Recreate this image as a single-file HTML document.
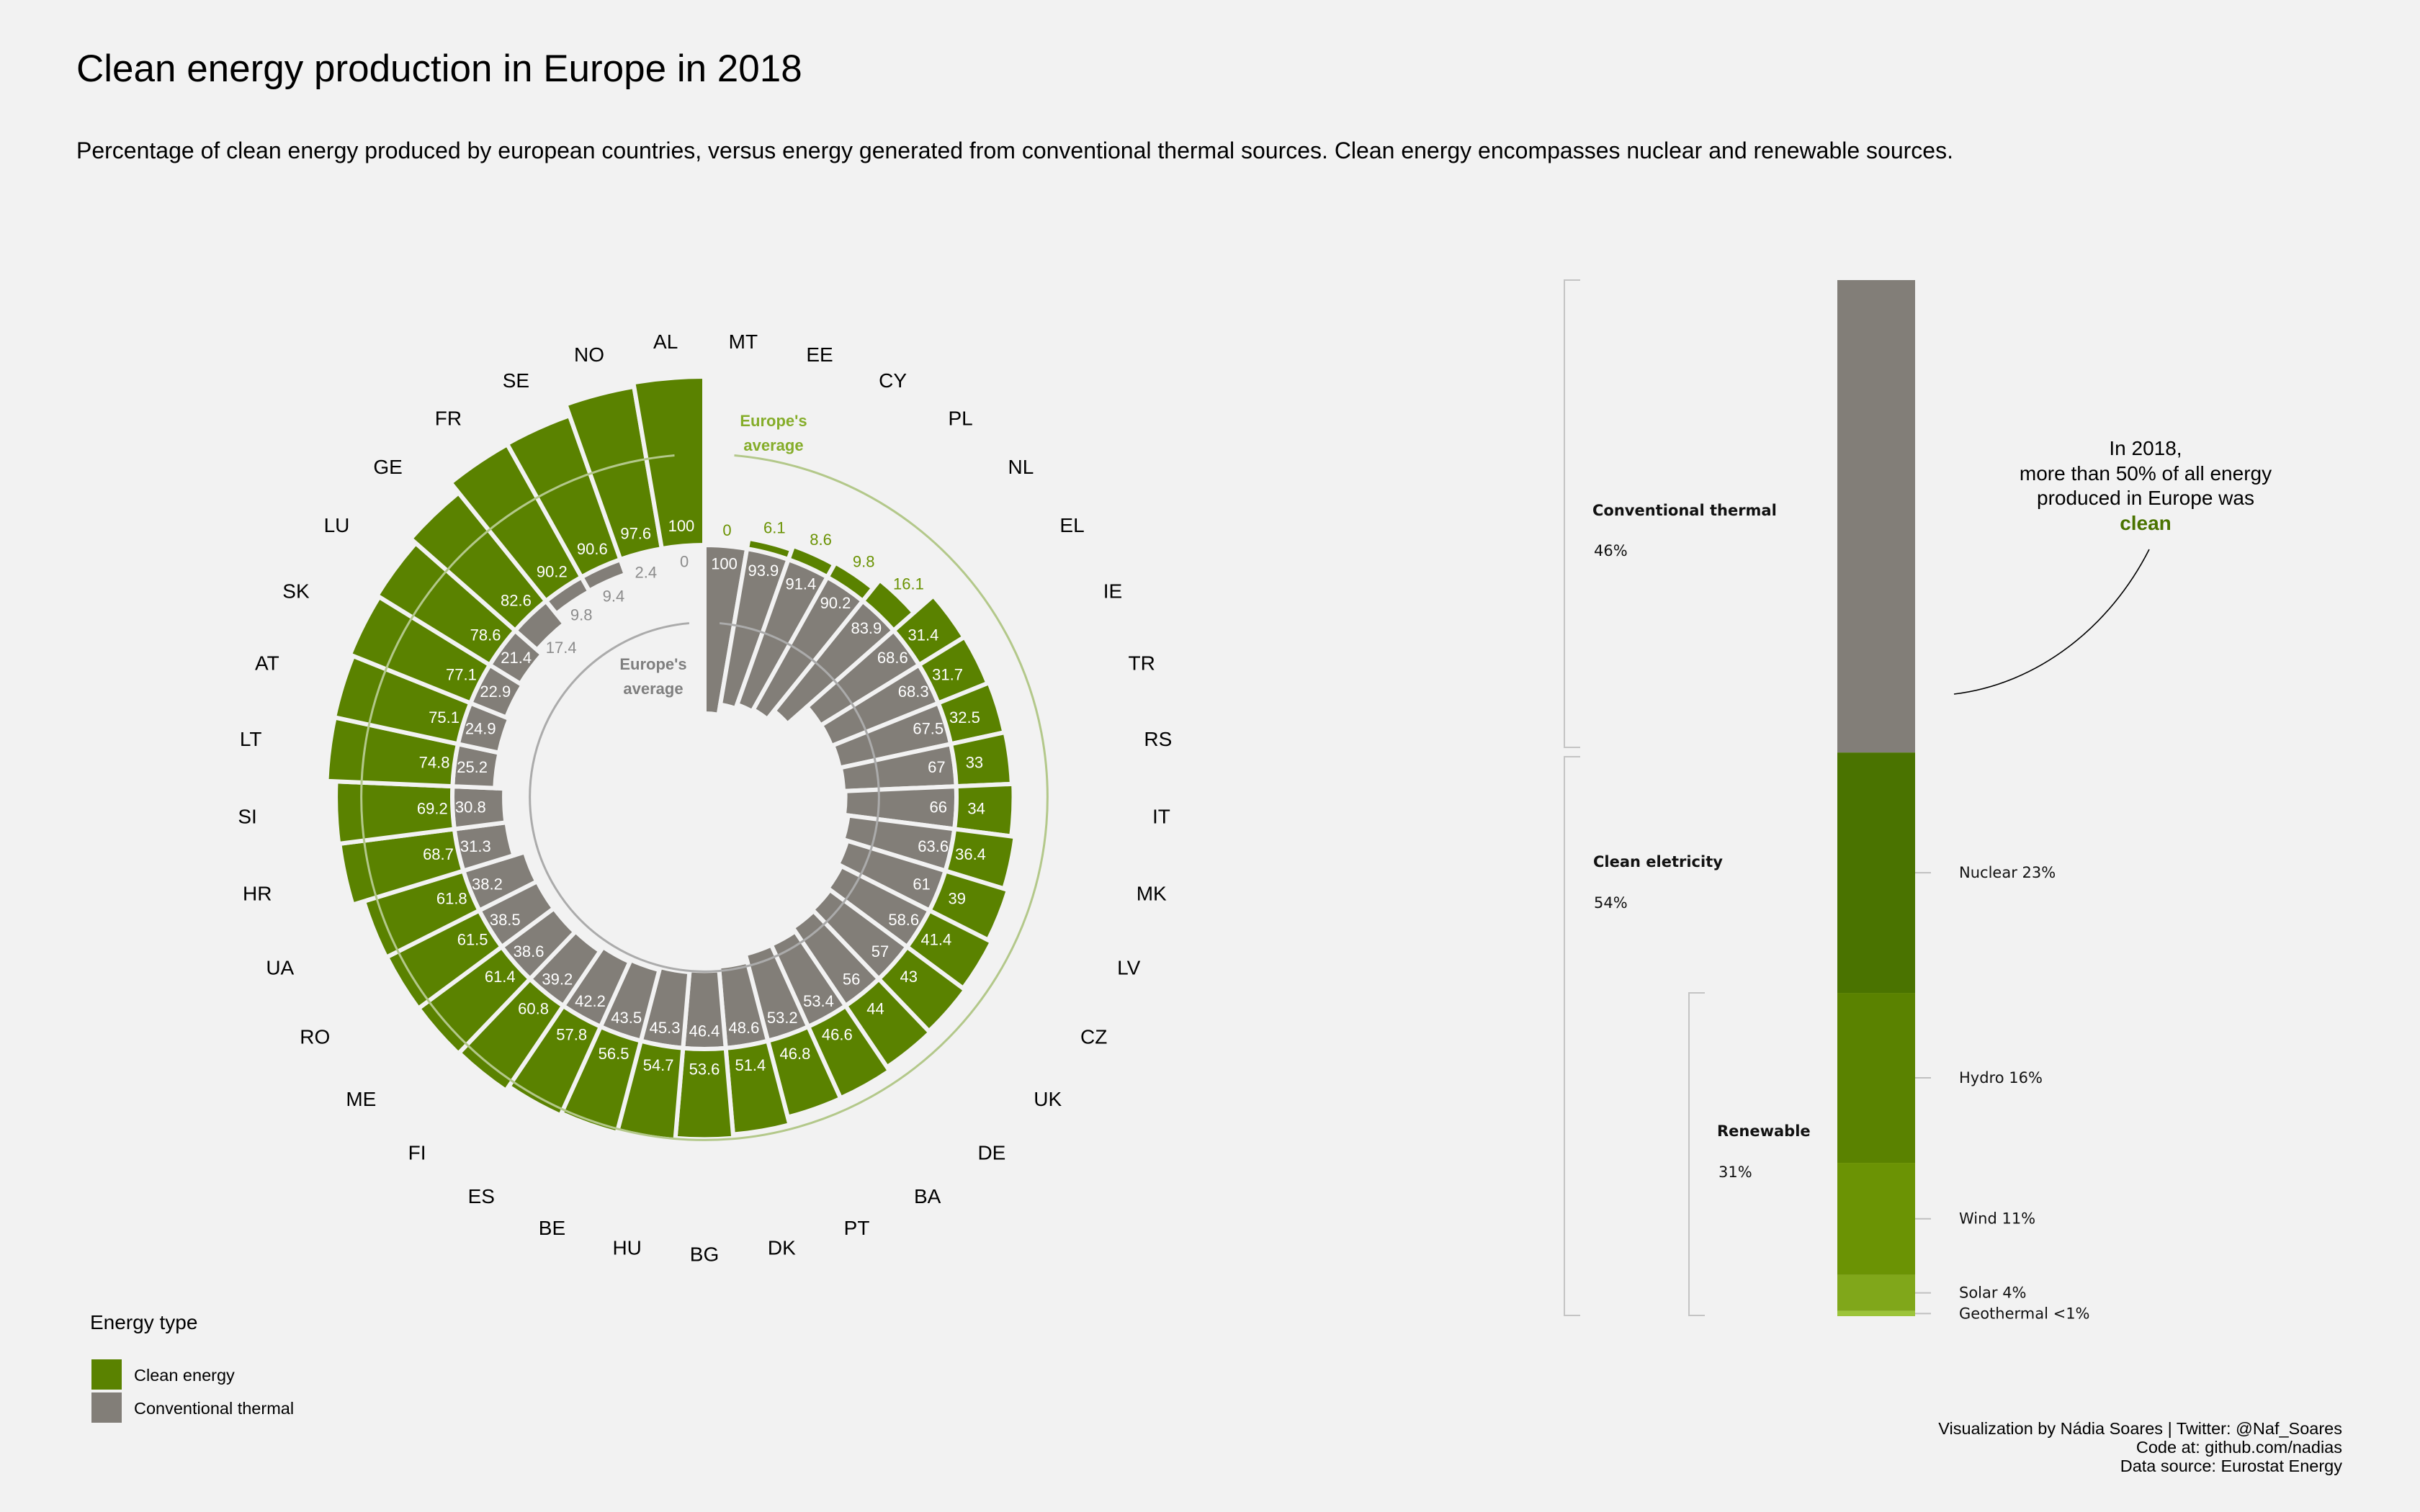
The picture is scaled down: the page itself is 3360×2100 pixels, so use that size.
<!DOCTYPE html>
<html><head><meta charset="utf-8"><style>
html,body{margin:0;padding:0;background:#f2f2f2}
svg{display:block;font-family:"Liberation Sans",Arial,sans-serif}
</style></head><body>
<svg id="chart" width="3360" height="2100" viewBox="0 0 3360 2100" xmlns="http://www.w3.org/2000/svg">
<rect x="0" y="0" width="3360" height="2100" fill="#f2f2f2"/>
<text x="106" y="113" font-size="53" fill="#000">Clean energy production in Europe in 2018</text>
<text x="106" y="220" font-size="32" fill="#000">Percentage of clean energy produced by european countries, versus energy generated from conventional thermal sources. Clean energy encompasses nuclear and renewable sources.</text>
<g id="polar"></g>
<g id="stack"></g>
<g>
<text x="125" y="1846" font-size="28">Energy type</text>
<rect x="127" y="1888" width="42" height="42" fill="#5a8200"/>
<text x="186" y="1918" font-size="23.5">Clean energy</text>
<rect x="127" y="1934" width="42" height="42" fill="#827e78"/>
<text x="186" y="1964" font-size="23.5">Conventional thermal</text>
</g>
<g font-size="23.5" text-anchor="end">
<text x="3252" y="1992">Visualization by Nádia Soares | Twitter: @Naf_Soares</text>
<text x="3252" y="2018">Code at: github.com/nadias</text>
<text x="3252" y="2044">Data source: Eurostat Energy</text>
</g>
</svg>
<script>
const countries = ["MT","EE","CY","PL","NL","EL","IE","TR","RS","IT","MK","LV","CZ","UK","DE","BA","PT","DK","BG","HU","BE","ES","FI","ME","RO","UA","HR","SI","LT","AT","SK","LU","GE","FR","SE","NO","AL"];
const thermal = [100,93.9,91.4,90.2,83.9,68.6,68.3,67.5,67,66,63.6,61,58.6,57,56,53.4,53.2,48.6,46.4,45.3,43.5,42.2,39.2,38.6,38.5,38.2,31.3,30.8,25.2,24.9,22.9,21.4,17.4,9.8,9.4,2.4,0];
const clean = [0,6.1,8.6,9.8,16.1,31.4,31.7,32.5,33,34,36.4,39,41.4,43,44,46.6,46.8,51.4,53.6,54.7,56.5,57.8,60.8,61.4,61.5,61.8,68.7,69.2,74.8,75.1,77.1,78.6,82.6,90.2,90.6,97.6,100];
const avgThermal = [46];
const avgClean = [54];

const breakdownNames = ["Conventional thermal","Nuclear","Hydro","Wind","Solar","Geothermal"];
const breakdownValues = [45.6,23.2,16.4,10.8,3.5,0.5];
const breakdownLabels = ["","Nuclear 23%","Hydro 16%","Wind 11%","Solar 4%","Geothermal <1%"];

const NS = "http://www.w3.org/2000/svg";
const CX = 978, CY = 1107, RB = 350, K = 2.34;
const GREEN = "#5a8200", GRAY = "#827e78", BG = "#f2f2f2";
const PANEL_FONT = '"DejaVu Sans", "Liberation Sans", sans-serif';
function rScale(v){ return RB + K*v; }
function angle(i){ return (i + 0.5) * 360 / countries.length; }
function pt(r, deg){ const a = deg*Math.PI/180; return [CX + r*Math.sin(a), CY - r*Math.cos(a)]; }
function wedge(r0, r1, a0, a1){
  const p1=pt(r0,a0), p2=pt(r1,a0), p3=pt(r1,a1), p4=pt(r0,a1);
  const large = (a1-a0)>180?1:0;
  return `M${p1[0]},${p1[1]}L${p2[0]},${p2[1]}A${r1},${r1} 0 ${large} 1 ${p3[0]},${p3[1]}L${p4[0]},${p4[1]}A${r0},${r0} 0 ${large} 0 ${p1[0]},${p1[1]}Z`;
}
function arcPath(r, a0, a1){
  const p1=pt(r,a0), p2=pt(r,a1);
  const large = (a1-a0)>180?1:0;
  return `M${p1[0]},${p1[1]}A${r},${r} 0 ${large} 1 ${p2[0]},${p2[1]}`;
}
function mk(tag, attrs, parent){
  const e = document.createElementNS(NS, tag);
  for (const k in attrs) e.setAttribute(k, attrs[k]);
  parent.appendChild(e);
  return e;
}
const polar = document.getElementById("polar");
const step = 360 / countries.length;

countries.forEach((c, i) => {
  const a0 = i*step, a1 = (i+1)*step;
  if (thermal[i] > 0) {
    const w = mk("path", {d: wedge(rScale(-thermal[i]), RB, a0, a1), fill: GRAY, stroke: BG, "stroke-width": 6}, polar);
    
    
  }
  if (clean[i] > 0) {
    const w = mk("path", {d: wedge(RB, rScale(clean[i]), a0, a1), fill: GREEN, stroke: BG, "stroke-width": 6}, polar);
    
    
  }
});

const inner = mk("path", {d: arcPath(rScale(-avgThermal[0]), 5, 355), fill: "none", stroke: "#ababab", "stroke-width": 3}, polar);


const outer = mk("path", {d: arcPath(rScale(avgClean[0]), 5, 355), fill: "none", stroke: "#b3c88a", "stroke-width": 3}, polar);



countries.forEach((c, i) => {
  const am = angle(i);
  let r, col;
  if (thermal[i] >= 20) { r = 325; col = "#ffffff"; } else { r = rScale(-thermal[i]) - 22; col = "#8c8c8c"; }
  let p = pt(r, am);
  const t1 = mk("text", {x: p[0], y: p[1], "font-size": 22, fill: col, "text-anchor": "middle", "dominant-baseline": "central"}, polar);
  t1.textContent = String(thermal[i]);
  
  
  if (clean[i] >= 20) { r = 378; col = "#ffffff"; } else { r = rScale(clean[i]) + 22; col = "#6b9304"; }
  p = pt(r, am);
  const t2 = mk("text", {x: p[0], y: p[1], "font-size": 22, fill: col, "text-anchor": "middle", "dominant-baseline": "central"}, polar);
  t2.textContent = String(clean[i]);
  
  
  p = pt(635, am);
  const t3 = mk("text", {x: p[0], y: p[1], "font-size": 28, fill: "#000", "text-anchor": "middle", "dominant-baseline": "central"}, polar);
  t3.textContent = c;
  
  
});

[["Europe's", 592], ["average", 626]].forEach((l) => {
  const t = mk("text", {x: 1074, y: l[1], "font-size": 22, "font-weight": "bold", fill: "#85ad2a", "text-anchor": "middle"}, polar);
  t.textContent = l[0];
  
  
});
[["Europe's", 930], ["average", 964]].forEach((l) => {
  const t = mk("text", {x: 907, y: l[1], "font-size": 22, "font-weight": "bold", fill: "#7f7f7f", "text-anchor": "middle"}, polar);
  t.textContent = l[0];
  
  
});

/* Right stacked bar */
const stack = document.getElementById("stack");
const SX = 2551, SW = 108, STOP = 389, SH = 1439;
const segColors = ["#827e78","#4a7300","#5a8200","#6b9304","#80a71a","#9cc43a"];
const total = breakdownValues.reduce((a,b)=>a+b,0);
let yc = STOP;
breakdownValues.forEach((v, i) => {
  const h = v/total*SH;
  const r = mk("rect", {x: SX, y: yc, width: SW, height: h, fill: segColors[i]}, stack);
  
  
  if (i > 0) {
    const ym = yc + h/2;
    const tk = mk("line", {x1: SX+SW, x2: SX+SW+22, y1: ym, y2: ym, stroke: "#c0c0c0", "stroke-width": 2}, stack);
    
    
    const t = mk("text", {x: 2720, y: ym, "font-size": 21, "font-family": PANEL_FONT, fill: "#111", "dominant-baseline": "central"}, stack);
    t.textContent = breakdownLabels[i];
    
    
  }
  yc += h;
});

const brackets = [
  ["M2194,389H2172V1038H2194", "bracket-thermal"],
  ["M2194,1051H2172V1827H2194", "bracket-clean"],
  ["M2367,1379H2345V1827H2367", "bracket-renewable"]
];
brackets.forEach(b => {
  const p = mk("path", {d: b[0], fill: "none", stroke: "#c4c4c4", "stroke-width": 2}, stack);
  
  
});
const groupTexts = [
  ["Conventional thermal", 2211, 716, true],
  ["46%", 2213, 772, false],
  ["Clean eletricity", 2212, 1204, true],
  ["54%", 2213, 1261, false],
  ["Renewable", 2384, 1578, true],
  ["31%", 2386, 1635, false]
];
groupTexts.forEach(g => {
  const t = mk("text", {x: g[1], y: g[2], "font-size": 21, "font-family": PANEL_FONT, "font-weight": g[3] ? "bold" : "normal", fill: "#111"}, stack);
  t.textContent = g[0];
  
  
});
const ann = [["In 2018,", 632, "#000", "normal"], ["more than 50% of all energy", 667, "#000", "normal"], ["produced in Europe was", 701, "#000", "normal"], ["clean", 736, "#4a7300", "bold"]];
ann.forEach(a => {
  const t = mk("text", {x: 2979, y: a[1], "font-size": 28, fill: a[2], "font-weight": a[3], "text-anchor": "middle"}, stack);
  t.textContent = a[0];
  
  
});
const cur = mk("path", {d: "M2984,763C2930,870 2830,950 2713,964", fill: "none", stroke: "#000", "stroke-width": 1.6}, stack);


</script>
</body></html>
